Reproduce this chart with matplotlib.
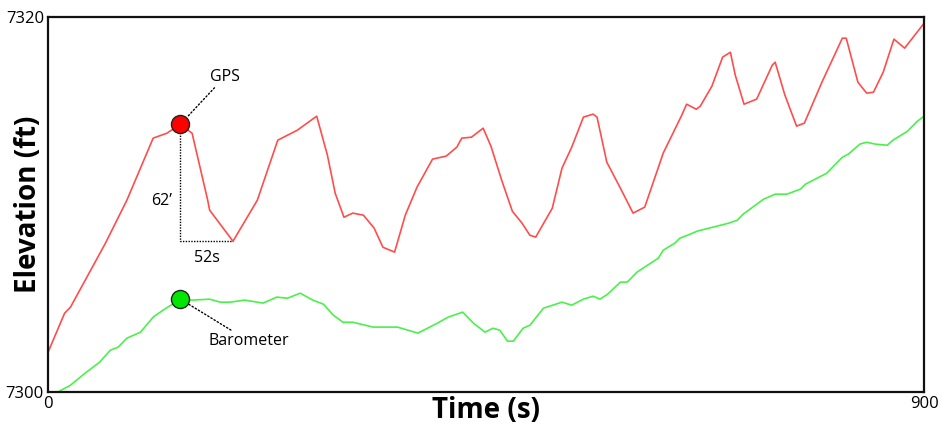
import matplotlib.pyplot as plt
import numpy as np

# GPS elevation trace
gps_time = [0, 17, 23, 59, 81, 108, 122, 136, 148, 164, 166, 190, 215, 236, 256, 276,
            287, 295, 304, 313, 324, 335, 344, 356, 367, 379, 395, 409, 420, 425, 435,
            447, 455, 466, 477, 487, 495, 501, 518, 528, 538, 550, 560, 564, 574, 588,
            601, 613, 632, 651, 656, 666, 670, 682, 693, 701, 706, 715, 728, 744, 747,
            757, 769, 777, 795, 816, 820, 832, 841, 848, 858, 869, 880, 900]
gps_elev = [7302.13, 7304.21, 7304.53, 7307.95, 7310.24, 7313.55, 7313.81, 7314.29,
            7313.81, 7310.24, 7309.71, 7308.05, 7310.24, 7313.44, 7313.97, 7314.72,
            7312.64, 7310.61, 7309.33, 7309.55, 7309.44, 7308.75, 7307.73, 7307.47,
            7309.44, 7310.93, 7312.43, 7312.59, 7313.07, 7313.55, 7313.60, 7314.08,
            7313.12, 7311.31, 7309.65, 7309.01, 7308.37, 7308.27, 7309.81, 7311.95,
            7313.07, 7314.67, 7314.83, 7314.67, 7312.27, 7310.88, 7309.55, 7309.87,
            7312.75, 7314.77, 7315.36, 7315.09, 7315.25, 7316.32, 7317.87, 7318.13,
            7316.91, 7315.36, 7315.63, 7317.44, 7317.60, 7315.84, 7314.19, 7314.35,
            7316.53, 7318.88, 7318.88, 7316.53, 7315.95, 7316.00, 7317.07, 7318.83,
            7318.35, 7319.68]

# Barometer elevation trace
baro_time = [0, 10, 23, 38, 53, 64, 72, 81, 95, 108, 118, 136, 148, 166, 177, 187,
             202, 221, 235, 246, 259, 272, 283, 293, 303, 313, 334, 359, 380, 400,
             411, 426, 437, 449, 457, 464, 472, 478, 488, 495, 509, 528, 538, 550,
             560, 567, 575, 588, 595, 605, 627, 632, 644, 649, 657, 667, 683, 699,
             708, 714, 735, 747, 759, 773, 778, 790, 800, 816, 822, 834, 841, 850,
             862, 868, 883, 893, 900]
baro_elev = [7299.90, 7300.00, 7300.37, 7301.01, 7301.60, 7302.24, 7302.40, 7302.88,
             7303.20, 7304.00, 7304.37, 7304.96, 7304.91, 7304.96, 7304.80, 7304.80,
             7304.91, 7304.75, 7305.07, 7305.01, 7305.28, 7304.91, 7304.69, 7304.11,
             7303.73, 7303.73, 7303.47, 7303.47, 7303.15, 7303.68, 7304.00, 7304.27,
             7303.68, 7303.20, 7303.41, 7303.31, 7302.72, 7302.72, 7303.41, 7303.57,
             7304.48, 7304.80, 7304.64, 7304.96, 7305.12, 7304.96, 7305.23, 7305.87,
             7305.87, 7306.40, 7307.15, 7307.57, 7307.95, 7308.21, 7308.37, 7308.59,
             7308.80, 7309.01, 7309.17, 7309.49, 7310.29, 7310.56, 7310.56, 7310.83,
             7311.09, 7311.41, 7311.68, 7312.53, 7312.69, 7313.23, 7313.33, 7313.23,
             7313.17, 7313.44, 7313.92, 7314.45, 7314.72]

x_ticks = [0, 900]
y_ticks = [7300, 7320]
peak_idx = 7       # GPS peak at t=136
baro_idx = 11      # barometer point at t=136
trough_idx = 11    # GPS trough at t=190
drop_label = "62\u2019"
lag_label = "52s"

plt.rcParams["font.family"] = ["Open Sans", "DejaVu Sans"]

fig = plt.figure(figsize=(9.42, 4.30), dpi=100)
ax = fig.add_axes([0.051, 0.088, 0.930, 0.872])

ax.plot(gps_time, gps_elev, color="#ff4d4d", linewidth=1.2, zorder=2)
ax.plot(baro_time, baro_elev, color="#4cf04c", linewidth=1.2, zorder=2)

# dotted measurement lines from GPS peak to trough
t_peak, e_peak = gps_time[peak_idx], gps_elev[peak_idx]
t_low, e_low = gps_time[trough_idx], gps_elev[trough_idx]
ax.plot([t_peak, t_peak, t_low], [e_peak, e_low, e_low], color="black",
        linestyle=(0, (1, 1)), linewidth=1.0, zorder=1)
ax.annotate(drop_label, xy=(t_peak, (e_peak + e_low) / 2), xytext=(-6, -13),
            textcoords="offset points", ha="right", va="center", fontsize=11.5)
ax.annotate(lag_label, xy=((t_peak + t_low) / 2, e_low), xytext=(0, -6),
            textcoords="offset points", ha="center", va="top", fontsize=11.5)

# markers with leader labels
ax.plot(t_peak, e_peak, "o", markersize=13, markerfacecolor="#ff0000",
        markeredgecolor="#222222", markeredgewidth=1.0, zorder=3)
ax.plot(baro_time[baro_idx], baro_elev[baro_idx], "o", markersize=13,
        markerfacecolor="#00e600", markeredgecolor="#222222", markeredgewidth=1.0,
        zorder=3)

leader = dict(arrowstyle="-", linestyle=":", color="black", linewidth=1.0,
              shrinkA=0, shrinkB=7)
ax.annotate("GPS", xy=(t_peak, e_peak), xytext=(21, 34), textcoords="offset points",
            ha="left", va="center", fontsize=11.5, arrowprops=leader)
ax.annotate("Barometer", xy=(baro_time[baro_idx], baro_elev[baro_idx]),
            xytext=(20, -30), textcoords="offset points", ha="left", va="center",
            fontsize=11.5, arrowprops=leader)

ax.set_xlim(0, 900)
ax.set_ylim(7300, 7320)
ax.set_xticks(x_ticks)
ax.set_yticks(y_ticks)
ax.tick_params(length=0, labelsize=12, pad=3)
ax.set_xlabel("Time (s)", fontsize=20, fontweight="bold", labelpad=-12)
ax.set_ylabel("Elevation (ft)", fontsize=20, fontweight="bold", labelpad=-27)

for spine in ax.spines.values():
    spine.set_linewidth(1.6)
    spine.set_color("#111111")

fig.savefig("out.png", dpi=100)
